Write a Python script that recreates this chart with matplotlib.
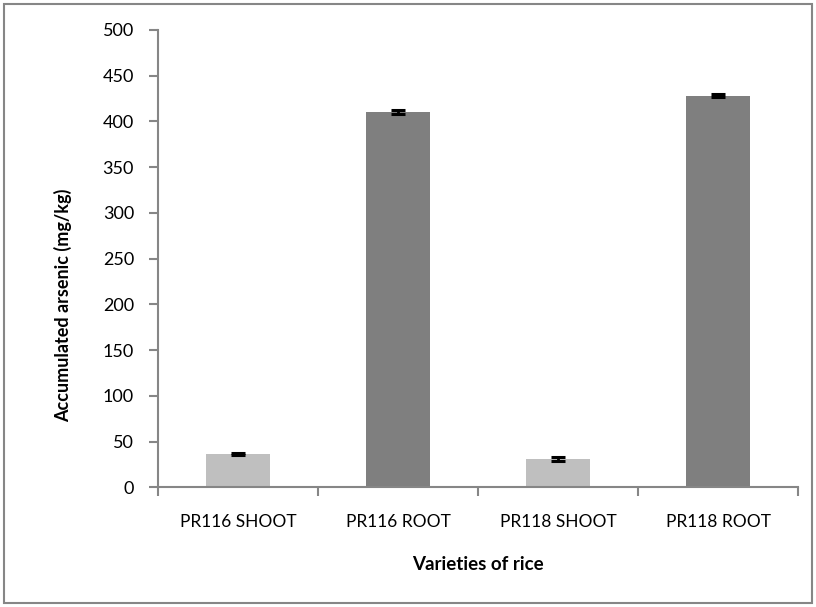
import numpy as np
import matplotlib
matplotlib.use("Agg")
import matplotlib.pyplot as plt
from matplotlib.patches import Rectangle

# data
categories = ["PR116 SHOOT", "PR116 ROOT", "PR118 SHOOT", "PR118 ROOT"]
values = [36.5, 410, 31, 428]
errors = [1.5, 2, 2.5, 1.5]
bar_colors = ["#bfbfbf", "#7f7f7f", "#bfbfbf", "#7f7f7f"]
y_ticks = [0, 50, 100, 150, 200, 250, 300, 350, 400, 450, 500]

plt.rcParams['font.family'] = ['Lato', 'DejaVu Sans']

W, H = 816, 607
fig = plt.figure(figsize=(W / 100, H / 100), dpi=100)
ax = fig.add_axes([158.3 / W, 1 - 487.3 / H, (798 - 158.3) / W, (487.3 - 30) / H])

x = np.arange(len(categories))
ax.bar(x, values, width=0.4, color=bar_colors, zorder=2)
ax.errorbar(x, values, yerr=errors, fmt='none', ecolor='black',
            elinewidth=2, capsize=4.7, capthick=2.2, zorder=3)

ax.set_xlim(-0.5, len(categories) - 0.5)
ax.set_ylim(0, 500)
ax.set_yticks(y_ticks)
ax.set_xticks(x)
ax.set_xticklabels(categories, fontsize=12.5)
ax.tick_params(axis='x', length=0, pad=19)
ax.tick_params(axis='y', labelsize=13, length=6.5, width=1.5, color='#868686', pad=11)

# category boundary ticks on the x axis
ax.set_xticks(np.arange(-0.5, len(categories)), minor=True)
ax.tick_params(axis='x', which='minor', length=6.5, width=1.5, color='#868686')

for side in ['top', 'right']:
    ax.spines[side].set_visible(False)
for side in ['left', 'bottom']:
    ax.spines[side].set_color('#868686')
    ax.spines[side].set_linewidth(1.5)

ax.set_xlabel("Varieties of rice", fontsize=13.5, fontweight='bold', labelpad=19)
fig.text(63 / W, 1 - 305 / H, "Accumulated arsenic (mg/kg)", rotation=90,
         ha='center', va='center', fontsize=13, fontweight='bold',
         family=['Liberation Sans Narrow', 'Lato', 'DejaVu Sans'])

# outer chart border
fig.patches.append(Rectangle((4 / W, 4 / H), 1 - 8 / W, 1 - 8 / H,
                             transform=fig.transFigure, fill=False,
                             edgecolor='#868686', linewidth=1.5))

fig.savefig("out.png", dpi=100)
